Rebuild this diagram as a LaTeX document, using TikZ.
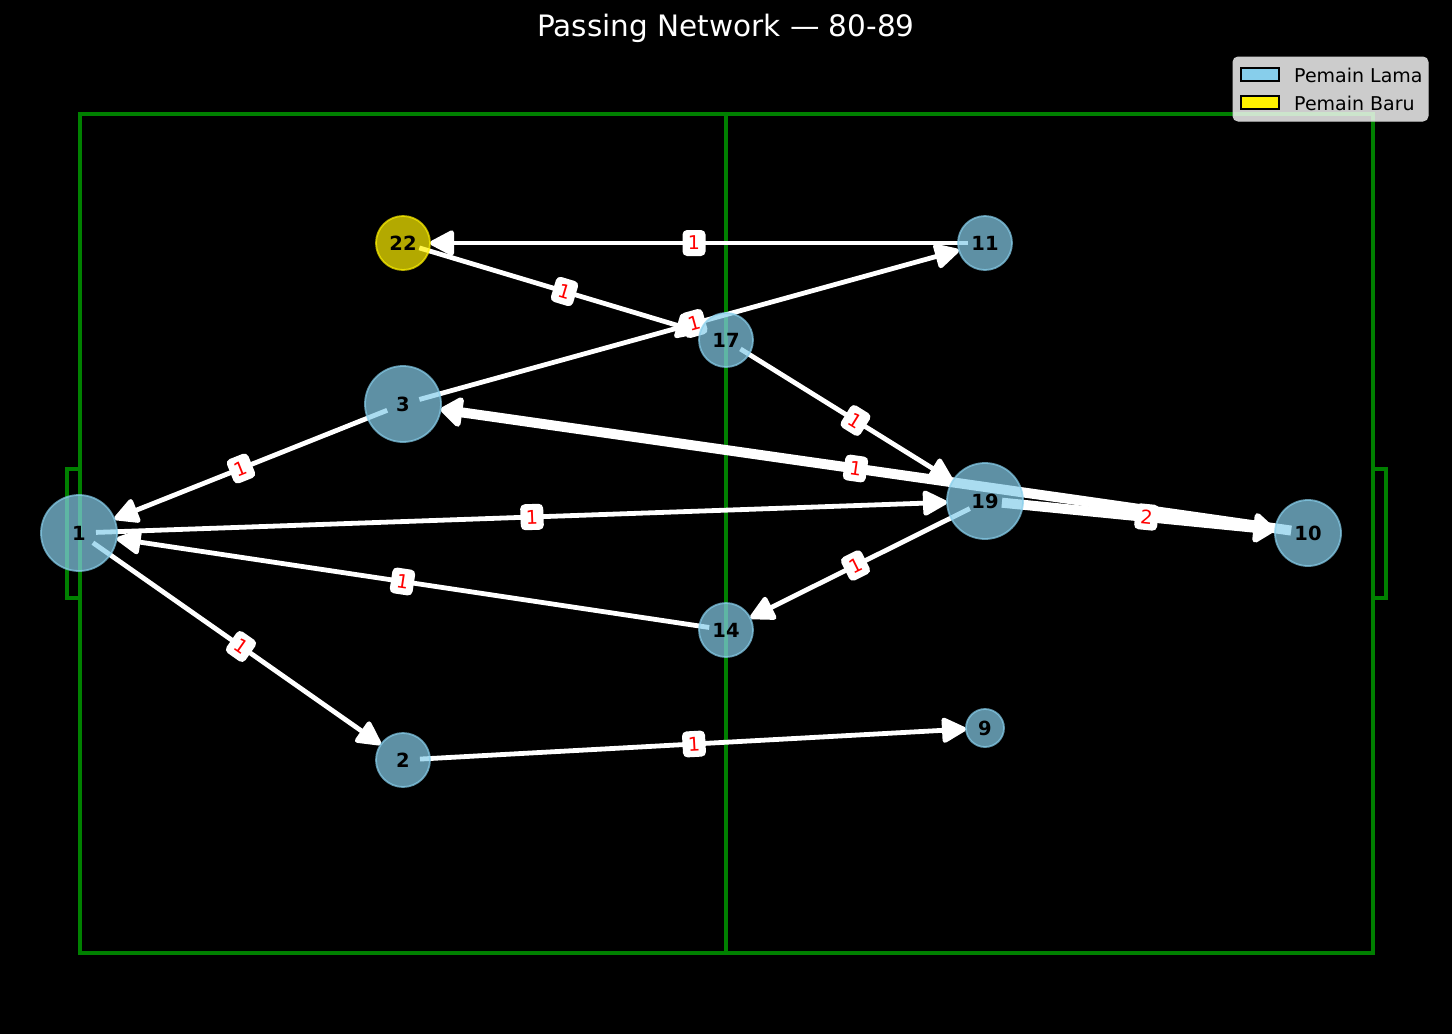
\documentclass[tikz,border=0pt]{standalone}
\usepackage{fontspec}
\setmainfont{DejaVu Sans}
\usetikzlibrary{arrows.meta,calc}
\pgfdeclarelayer{bg}
\pgfdeclarelayer{fg}
\pgfsetlayers{bg,main,fg}
\definecolor{skyb}{RGB}{135,206,235}
\definecolor{pitchgreen}{RGB}{0,128,0}
\definecolor{legframe}{RGB}{204,204,204}
\begin{document}
\begin{tikzpicture}[x=1pt,y=-1pt,
  player/.style={circle, fill=skyb, draw=skyb, opacity=0.7, text opacity=1,
    line width=1.8pt, inner sep=0pt, outer sep=0pt, minimum size=#1,
    font=\bfseries\fontsize{19.5}{21}\selectfont, text=black},
  newplayer/.style={player=#1, fill=yellow, draw=yellow},
  pass/.style={draw=white, line width=4.8pt, shorten <=17pt,
    -{Triangle[length=27pt,width=27pt,round]}},
  bigpass/.style={draw=white, line width=10pt, shorten <=17pt,
    -{Triangle[length=24pt,width=34pt,round]}},
  elab/.style={fill=white, rounded corners=4.5pt, text=red, inner sep=0pt,
    minimum width=23pt, minimum height=26pt, font=\fontsize{19}{21}\selectfont},
  pitchline/.style={draw=pitchgreen, line width=3.6pt},
  legpatch/.style={draw=black, line width=1.8pt},
  legtext/.style={anchor=west, text=black, inner sep=0pt, font=\fontsize{19}{21}\selectfont}
]
\useasboundingbox (0,0) rectangle (1452,1034);
\begin{pgfonlayer}{bg}
  \fill[black] (0,0) rectangle (1452,1034);
  \draw[pitchline] (80,114) rectangle (1373,953);
  \draw[pitchline] (726,114) -- (726,953);
  \draw[pitchline] (67,469) rectangle (80,598);
  \draw[pitchline] (1373,469) rectangle (1386,598);
\end{pgfonlayer}

\node[text=white, font=\fontsize{29.5}{34}\selectfont] (title) at (726,28) {Passing Network — 80-89};

\begin{pgfonlayer}{fg}
  \node[player=76pt] (n1) at (79,533) {1};
  \node[player=76pt] (n3) at (403,404) {3};
  \node[player=76pt] (n19) at (985,501) {19};
  \node[player=66pt] (n10) at (1308,533) {10};
  \node[newplayer=54pt] (n22) at (403,243) {22};
  \node[player=54pt] (n11) at (985,243) {11};
  \node[player=54pt] (n17) at (726,340) {17};
  \node[player=54pt] (n14) at (726,630) {14};
  \node[player=54pt] (n2) at (403,760) {2};
  \node[player=38pt] (n9) at (985,728) {9};
\end{pgfonlayer}

% passes
\draw[bigpass] (n10.center) -- (n3);
\draw[bigpass] (n19.center) -- (n10);
\draw[pass] (n11.center) -- (n22);
\draw[pass] (n22.center) -- (n17);
\draw[pass] (n3.center) -- (n11);
\draw[pass] (n17.center) -- (n19);
\draw[pass] (n3.center) -- (n1);
\draw[pass] (n1.center) -- (n19);
\draw[pass] (n14.center) -- (n1);
\draw[pass] (n1.center) -- (n2);
\draw[pass] (n2.center) -- (n9);
\draw[pass] (n19.center) -- (n14);

% pass counts
\path (n11.center) -- (n22.center) node[midway, sloped, elab] (l1) {1};
\path (n22.center) -- (n17.center) node[midway, sloped, elab] (l2) {1};
\path (n3.center) -- (n11.center) node[midway, sloped, elab] (l3) {1};
\path (n17.center) -- (n19.center) node[midway, sloped, elab] (l4) {1};
\path (n10.center) -- (n3.center) node[midway, sloped, elab] (l5) {1};
\path (n19.center) -- (n10.center) node[midway, sloped, elab] (l6) {2};
\path (n3.center) -- (n1.center) node[midway, sloped, elab] (l7) {1};
\path (n1.center) -- (n19.center) node[midway, sloped, elab] (l8) {1};
\path (n14.center) -- (n1.center) node[midway, sloped, elab] (l9) {1};
\path (n1.center) -- (n2.center) node[midway, sloped, elab] (l10) {1};
\path (n2.center) -- (n9.center) node[midway, sloped, elab] (l11) {1};
\path (n19.center) -- (n14.center) node[midway, sloped, elab] (l12) {1};

% legend
\begin{pgfonlayer}{fg}
  \draw[fill=white, fill opacity=0.8, draw=legframe, line width=1pt, rounded corners=5pt]
    (1233,57) rectangle (1428,121);
  \draw[legpatch, fill=skyb] (1241,68) rectangle (1279,81);
  \draw[legpatch, fill=yellow] (1241,96) rectangle (1279,109);
  \node[legtext] (lg1) at (1294,75) {Pemain Lama};
  \node[legtext] (lg2) at (1294,103) {Pemain Baru};
\end{pgfonlayer}
\end{tikzpicture}
\end{document}
